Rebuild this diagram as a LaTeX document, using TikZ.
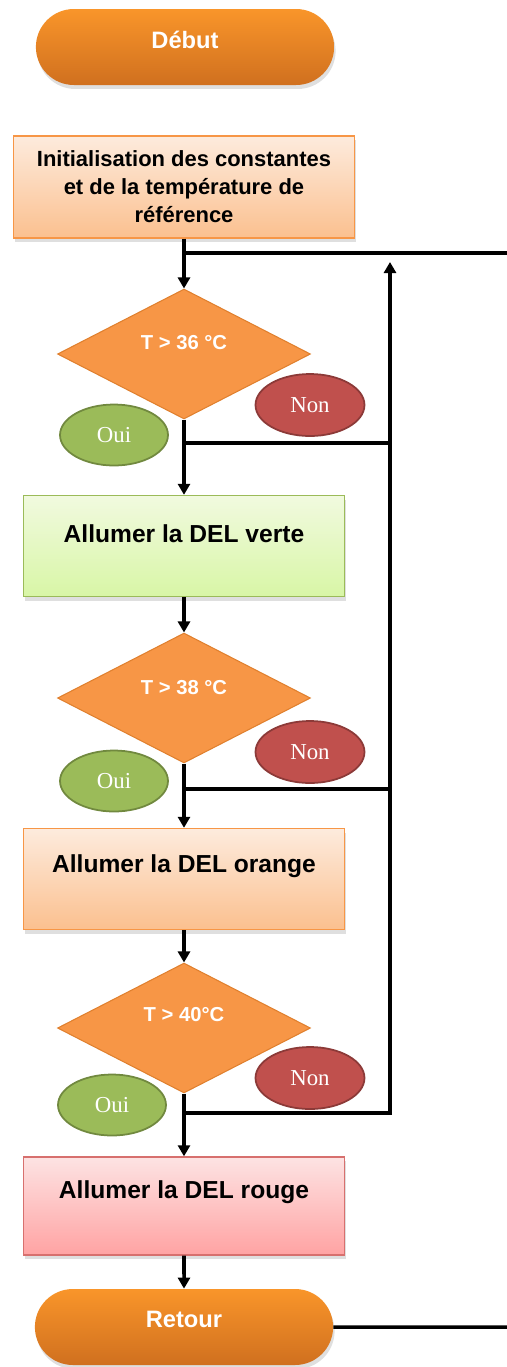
\documentclass[tikz,border=0pt]{standalone}
\usepackage{fontspec}
\setsansfont{Liberation Sans}
\newfontfamily\ouinonfont{Liberation Serif}
\usetikzlibrary{shapes.geometric,shapes.misc,arrows.meta,shadows}
\definecolor{termtop}{HTML}{F9952A}
\definecolor{termbot}{HTML}{D0701F}
\definecolor{peachtop}{HTML}{FDEBDD}
\definecolor{peachbot}{HTML}{FBC08F}
\definecolor{peachline}{HTML}{F79646}
\definecolor{greentop}{HTML}{F1FADF}
\definecolor{greenbot}{HTML}{D8F6A6}
\definecolor{greenline}{HTML}{9BBB59}
\definecolor{redtop}{HTML}{FDE3E3}
\definecolor{redbot}{HTML}{FFA3A3}
\definecolor{redline}{HTML}{D7706E}
\definecolor{testfill}{HTML}{F79646}
\definecolor{testline}{HTML}{E0802E}
\definecolor{ouifill}{HTML}{9BBB59}
\definecolor{ouiline}{HTML}{71893F}
\definecolor{nonfill}{HTML}{C0504D}
\definecolor{nonline}{HTML}{8C3A38}
\tikzset{
  flow/.style={line width=2pt},
  arr/.style={flow, -{Triangle[length=0.22cm,width=0.24cm]}},
  shade/.style={drop shadow={opacity=0.25, shadow xshift=0.03cm, shadow yshift=-0.08cm}},
  term/.style={rounded rectangle, minimum width=6.2cm, minimum height=1.52cm, top color=termtop, bottom color=termbot, text=white, font=\sffamily\bfseries\fontsize{13.5}{15}\selectfont, shade},
  act/.style={rectangle, minimum height=2.02cm, inner sep=0pt, align=center, line width=0.8pt, font=\sffamily\bfseries\fontsize{14}{16}\selectfont, shade},
  peach/.style={draw=peachline, top color=peachtop, bottom color=peachbot},
  greenbox/.style={draw=greenline, top color=greentop, bottom color=greenbot},
  redbox/.style={draw=redline, top color=redtop, bottom color=redbot},
  test/.style={diamond, minimum width=5.06cm, minimum height=2.6cm, inner sep=0pt, fill=testfill, draw=testline, line width=0.6pt, text=white, font=\sffamily\bfseries\fontsize{11.5}{13}\selectfont},
  oui/.style={ellipse, minimum width=2.16cm, minimum height=1.22cm, fill=ouifill, draw=ouiline, line width=1pt, text=white, font=\ouinonfont\fontsize{13}{14}\selectfont},
  non/.style={ellipse, minimum width=2.18cm, minimum height=1.24cm, fill=nonfill, draw=nonline, line width=1pt, text=white, font=\ouinonfont\fontsize{13}{14}\selectfont}
}
\newcommand{\liftxt}[2]{\raisebox{#1}[\height][\depth]{#2}}
\begin{document}
\begin{tikzpicture}[x=0.02cm, y=-0.02cm]
\useasboundingbox (0,0) rectangle (507,1367);
\node[term] (debut) at (185,47) {\liftxt{0.14cm}{Début}};
\node[act, peach, minimum width=6.82cm, minimum height=2.04cm, font=\sffamily\bfseries\fontsize{12.5}{16}\selectfont] (init) at (184,187) {Initialisation des constantes\\et de la température de\\référence};
\node[test] (t1) at (184,354) {\liftxt{0.22cm}{T > 36 °C}};
\node[oui] (oui1) at (114,435) {Oui};
\node[non] (non1) at (310,405) {Non};
\node[act, greenbox, minimum width=6.42cm] (verte) at (184,546) {\liftxt{0.24cm}{Allumer la DEL verte}};
\node[test] (t2) at (184,698) {\liftxt{0.2cm}{T > 38 °C}};
\node[oui] (oui2) at (114,781) {Oui};
\node[non] (non2) at (310,752) {Non};
\node[act, peach, minimum width=6.42cm] (orange) at (184,879) {\liftxt{0.26cm}{Allumer la DEL orange}};
\node[test] (t3) at (184,1028) {\liftxt{0.26cm}{T > 40°C}};
\node[oui] (oui3) at (112,1105) {Oui};
\node[non] (non3) at (310,1078) {Non};
\node[act, redbox, minimum width=6.42cm, minimum height=1.96cm] (rouge) at (184,1206) {\liftxt{0.28cm}{Allumer la DEL rouge}};
\node[term] (retour) at (184,1327) {\liftxt{0.16cm}{Retour}};
\coordinate (j0) at (184,253);
\coordinate (out0) at (507,253);
\coordinate (j1) at (184,443);
\coordinate (b1) at (390,443);
\coordinate (j2) at (184,789);
\coordinate (b2) at (390,789);
\coordinate (j3) at (184,1113);
\coordinate (b3) at (390,1113);
\coordinate (back) at (390,262);
\coordinate (out1) at (507,1327);
\draw[arr] (init) -- (t1);
\draw[flow] (j0) -- (out0);
\draw[arr] (t1) -- (verte);
\draw[flow] (j1) -- (b1);
\draw[arr] (verte) -- (t2);
\draw[arr] (t2) -- (orange);
\draw[flow] (j2) -- (b2);
\draw[arr] (orange) -- (t3);
\draw[arr] (t3) -- (rouge);
\draw[arr] (j3) -- (b3) -- (back);
\draw[arr] (rouge) -- (retour);
\draw[flow] (retour) -- (out1);
\end{tikzpicture}
\end{document}
